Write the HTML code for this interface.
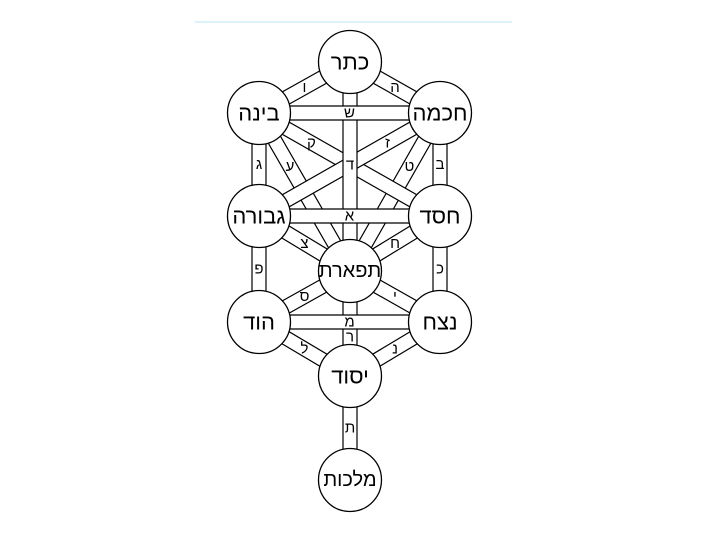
<!DOCTYPE html>
<html><head><meta charset="utf-8"><style>
html,body{margin:0;padding:0;background:#fff}
svg{display:block}
text{font-family:"Liberation Sans","DejaVu Sans",sans-serif;fill:#000;text-anchor:middle;dominant-baseline:central}
</style></head><body>
<svg width="709" height="543" viewBox="0 0 709 543" xmlns="http://www.w3.org/2000/svg">
<line x1="195" y1="22" x2="512" y2="22" stroke="#cdeef5" stroke-width="1.5"/>
<g fill="#fff" stroke="#000" stroke-width="1.2" id="bars"></g>
<g id="letters" font-size="15"></g>
<g id="nodes"></g>
<script>
var N={ke:[350,62],ch:[440,113],bi:[259,113],he:[440,216],ge:[259,216],ti:[350,271],ne:[440,322],ho:[259,322],ye:[350,376],ma:[350,480]};
var P=[["bi","ti","ע",0.34],["ch","ti","ט",0.34],["bi","he","ק",0.29],["ch","ge","ז",0.29],
["ge","ti","צ",0.5],["he","ti","ח",0.5],["ho","ti","ס",0.5],["ne","ti","י",0.5],
["ho","ye","ל",0.5],["ne","ye","נ",0.5],["ke","ch","ה",0.5],["ke","bi","ו",0.5],
["ch","he","ב",0.5],["bi","ge","ג",0.5],["ge","ho","פ",0.5],["he","ne","כ",0.5],
["ti","ye","ר",0.5],["ye","ma","ת",0.5],["ke","ti","ד",0.5],
["bi","ch","ש",0.5],["ge","he","א",0.5],["ho","ne","מ",0.5]];
var ns="http://www.w3.org/2000/svg",bars=document.getElementById("bars"),L=document.getElementById("letters"),G=document.getElementById("nodes");
P.forEach(function(p){var a=N[p[0]],b=N[p[1]],dx=b[0]-a[0],dy=b[1]-a[1],l=Math.hypot(dx,dy),nx=-dy/l*7,ny=dx/l*7;
var e=document.createElementNS(ns,"polygon");e.setAttribute("points",[a[0]+nx,a[1]+ny,b[0]+nx,b[1]+ny,b[0]-nx,b[1]-ny,a[0]-nx,a[1]-ny].join(" "));bars.appendChild(e);
var t=document.createElementNS(ns,"text");var x=a[0]+dx*p[3],y=a[1]+dy*p[3];
if(p[0]=="ke"&&p[1]=="ti"){y=165}
if(p[0]=="ti"&&p[1]=="ye"){y=337}
t.setAttribute("x",x);t.setAttribute("y",y);t.textContent=p[2];L.appendChild(t);});
var names={ke:"כתר",ch:"חכמה",bi:"בינה",he:"חסד",ge:"גבורה",ti:"תפארת",ne:"נצח",ho:"הוד",ye:"יסוד",ma:"מלכות"};
for(var k in N){var c=document.createElementNS(ns,"circle");c.setAttribute("cx",N[k][0]);c.setAttribute("cy",N[k][1]);c.setAttribute("r",31.5);c.setAttribute("fill","#fff");c.setAttribute("stroke","#000");c.setAttribute("stroke-width","1.3");G.appendChild(c);
var t=document.createElementNS(ns,"text");t.setAttribute("x",N[k][0]);t.setAttribute("y",N[k][1]);t.setAttribute("font-size",k=="ti"||k=="ma"?"20":"22");t.textContent=names[k];G.appendChild(t);}
</script>
</svg>
</body></html>
